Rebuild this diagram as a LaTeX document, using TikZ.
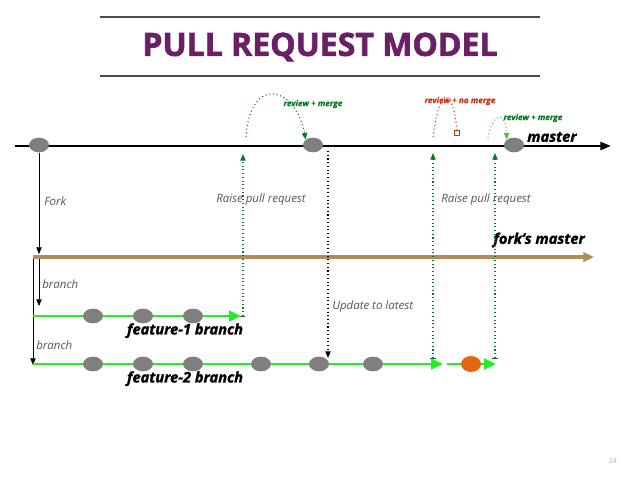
\documentclass[tikz,border=0pt]{standalone}
\usepackage{fontspec}
\setmainfont{Open Sans}
\usetikzlibrary{shapes.geometric,arrows.meta}

\definecolor{titlepurple}{HTML}{6A1F66}
\definecolor{commitgray}{HTML}{7F7F7F}
\definecolor{forkbrown}{HTML}{B38B57}
\definecolor{branchgreen}{HTML}{22EE22}
\definecolor{prgreen}{HTML}{0B7A25}
\definecolor{nomergered}{HTML}{C8341A}
\definecolor{lightgreen}{HTML}{66B845}
\definecolor{labelgray}{HTML}{555555}
\definecolor{hotorange}{HTML}{E2670F}

\tikzset{
  commit/.style={ellipse,fill=commitgray,minimum width=15pt,minimum height=11pt,inner sep=0pt},
  lbl/.style={inner sep=0.75pt,font=\fontsize{8.6}{10}\selectfont\itshape\addfontfeature{FakeBold=-0.3},text=labelgray},
  brname/.style={inner sep=0.75pt,font=\fontsize{11}{13}\selectfont\bfseries\itshape\addfontfeature{FakeBold=1.5}},
  revlbl/.style={inner sep=0.75pt,font=\fontsize{6.2}{7}\selectfont\bfseries\itshape\addfontfeature{FakeBold=1}},
  prline/.style={dotted,line width=0.8pt},
}

\begin{document}
\begin{tikzpicture}[x=0.75pt,y=0.75pt,yscale=-1,xscale=1]
\useasboundingbox (0,0) rectangle (638,479);

% title
\draw[line width=1.3pt,black!70] (100,17) -- (540,17);
\draw[line width=1.3pt,black!70] (100,76) -- (540,76);
\node[font=\fontsize{24}{26}\selectfont\bfseries\addfontfeature{FakeBold=2},text=titlepurple] (title) at (320,47) {PULL REQUEST MODEL};

% master
\coordinate (mstart) at (15,146);
\coordinate (mend) at (611,146);
\draw[line width=1.8pt,-{Triangle[length=8pt,width=6pt]}] (mstart) -- (mend);
\node[commit] (m1) at (39,145) {};
\node[commit] (m2) at (313,145) {};
\node[commit] (m3) at (514,145) {};
\node[brname,anchor=west] (mastername) at (526,137) {master};

% fork's master
\coordinate (fmstart) at (33,257);
\coordinate (fmend) at (594,257);
\draw[line width=2.4pt,forkbrown,-{Triangle[length=8pt,width=7pt]}] (fmstart) -- (fmend);
\node[brname,anchor=east] (forkname) at (586,240) {fork’s master};

% fork and branch lines
\coordinate (forkend) at (39,254);
\draw[-{Triangle[length=5pt,width=4pt]}] (m1.south) -- (forkend);
\node[lbl,anchor=west] (forklbl) at (43,201) {Fork};
\coordinate (b1start) at (39,259);
\coordinate (b1end) at (39,306);
\draw[-{Triangle[length=5pt,width=4pt]}] (b1start) -- (b1end);
\node[lbl,anchor=west] (b1lbl) at (41,284) {branch};
\coordinate (b2start) at (33,259);
\coordinate (b2end) at (33,365);
\draw[-{Triangle[length=5pt,width=4pt]}] (b2start) -- (b2end);
\node[lbl,anchor=west] (b2lbl) at (35,345) {branch};

% feature-1 branch
\coordinate (f1start) at (33,316);
\coordinate (f1end) at (241,316);
\draw[line width=2.2pt,branchgreen,-{Triangle[length=9pt,width=8pt]}] (f1start) -- (f1end);
\foreach \x [count=\i] in {93,143,193}
  \node[commit] (fa\i) at (\x,316) {};
\node[brname,anchor=north] (f1name) at (185,322) {feature-1 branch};

% feature-2 branch
\coordinate (f2start) at (33,364);
\coordinate (f2mid) at (443,364);
\coordinate (f2restart) at (447,364);
\coordinate (f2end) at (496,364);
\draw[line width=2.2pt,branchgreen,-{Triangle[length=9pt,width=8pt]}] (f2start) -- (f2mid);
\draw[line width=2.2pt,branchgreen,-{Triangle[length=9pt,width=8pt]}] (f2restart) -- (f2end);
\foreach \x [count=\i] in {93,143,193,261,319,373}
  \node[commit] (fb\i) at (\x,364) {};
\node[ellipse,fill=hotorange,minimum width=15pt,minimum height=12pt,inner sep=0pt] (fbnew) at (471,364) {};
\node[brname,anchor=north] (f2name) at (185,370) {feature-2 branch};

% first pull request
\coordinate (pr1low) at (243,316);
\coordinate (pr1top) at (243,154);
\draw[prline,prgreen,-{Triangle[length=5pt,width=4pt]}] (pr1low) -- (pr1top);
\draw[prgreen] (240,316) -- (245,316);
\node[lbl] (pr1lbl) at (261,200) {Raise pull request};
\coordinate (rev1start) at (246,137);
\draw[prline,prgreen,-{Triangle[length=5pt,width=4pt]}] (rev1start) .. controls (250,75) and (295,85) .. (m2.north west);
\node[revlbl,text=prgreen] (rev1lbl) at (313,104) {review + merge};

% update to latest
\coordinate (updend) at (328,358);
\draw[prline,-{Triangle[length=5pt,width=4pt]}] (328,151) -- (updend);
\node[lbl,anchor=west] (updlbl) at (331,307) {Update to latest};

% second pull request, not merged
\coordinate (pr2low) at (433,358);
\coordinate (pr2top) at (433,153);
\draw[prline,prgreen,-{Triangle[length=5pt,width=4pt]}] (pr2low) -- (pr2top);
\draw[prgreen] (430,358) -- (436,358);
\coordinate (rev2start) at (433,137);
\node[draw=nomergered,line width=0.7pt,minimum size=3.5pt,inner sep=0pt] (rev2end) at (457,133) {};
\draw[prline,nomergered] (rev2start) .. controls (440,85) and (452,85) .. (rev2end.north);
\node[revlbl,text=nomergered] (rev2lbl) at (460,101) {review + no merge};

% third pull request, merged
\coordinate (pr3low) at (495,358);
\coordinate (pr3top) at (495,153);
\draw[prline,prgreen,-{Triangle[length=5pt,width=4pt]}] (pr3low) -- (pr3top);
\draw[prgreen] (492,358) -- (498,358);
\node[lbl] (pr3lbl) at (486,200) {Raise pull request};
\coordinate (rev3start) at (488,138);
\draw[prline,lightgreen,-{Triangle[length=5pt,width=4pt]}] (rev3start) .. controls (493,110) and (506,112) .. (m3.north west);
\node[revlbl,text=prgreen] (rev3lbl) at (533,118) {review + merge};

% slide number
\node[font=\fontsize{5}{6}\selectfont,text=black!35] (pageno) at (613,461) {24};
\end{tikzpicture}
\end{document}
